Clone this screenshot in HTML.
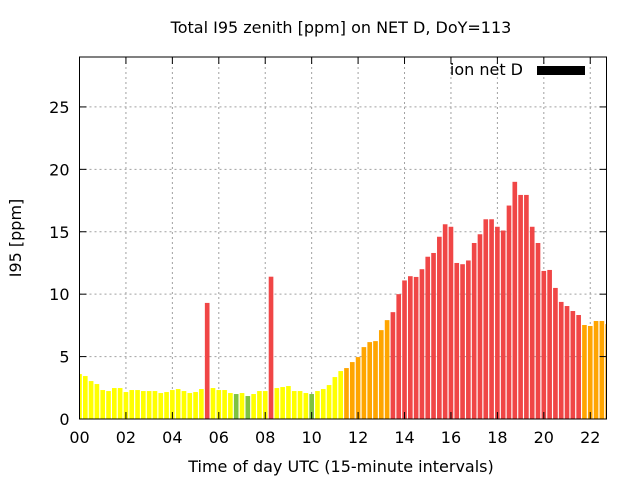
<!DOCTYPE html>
<html><head><meta charset="utf-8"><style>
body{margin:0;background:#fff}
svg{font-family:"DejaVu Sans","Liberation Sans",sans-serif}
</style></head><body>
<svg id="chart" width="640" height="480">
<text x="341" y="33" text-anchor="middle" font-size="16">Total I95 zenith [ppm] on NET D, DoY=113</text>
<text x="341" y="472" text-anchor="middle" font-size="16">Time of day UTC (15-minute intervals)</text>
<text transform="translate(21,238) rotate(-90)" text-anchor="middle" font-size="16">I95 [ppm]</text>
<g id="grid"></g>
<g id="bars"></g>
<g id="axes"></g>
<text x="523" y="75" text-anchor="end" font-size="16">ion net D</text>
<rect x="537" y="66" width="48" height="9" fill="#000"/>
</svg>
<script>
const values=[3.6,3.44,3.04,2.8,2.32,2.24,2.48,2.48,2.16,2.32,2.32,2.24,2.24,2.24,2.08,2.16,2.32,2.4,2.24,2.08,2.16,2.4,9.3,2.48,2.32,2.32,2.08,2.0,2.08,1.84,
2.0,2.24,2.24,11.4,2.48,2.56,2.64,2.24,2.24,2.08,2.0,2.24,2.4,2.72,3.36,3.84,4.08,4.56,4.96,5.76,6.16,6.24,7.12,7.92,8.56,10.0,11.1,11.44,11.38,12.0,
13.0,13.3,14.6,15.6,15.4,12.5,12.4,12.7,14.1,14.8,16.0,16.0,15.4,15.1,17.1,19.0,17.95,17.95,15.4,14.1,11.86,11.94,10.5,9.38,9.05,8.65,8.33,7.53,7.45,7.85,7.85,7.6];
const greenIdx=[27,29,40];
const orangeIdx=[46,47,48,49,50,51,52,53,87,88,89,90,91];
const redIdx=[22,33];
const yTicks=[0,5,10,15,20,25];
const xTicks=["00","02","04","06","08","10","12","14","16","18","20","22"];
const L=79.5,R=606.5,T=57,B=419,XMAX=22.7,YMAX=29;
const sx=h=>L+(h/XMAX)*(R-L), sy=v=>B-(v/YMAX)*(B-T);
const NS="http://www.w3.org/2000/svg";
function colorFor(i){
 if(greenIdx.includes(i))return "#7fc241";
 if(orangeIdx.includes(i))return "#ffa500";
 if(redIdx.includes(i)||(i>=54&&i<=86))return "#f04646";
 return "#ffff00";}
function mk(tag,attrs,parent){const e=document.createElementNS(NS,tag);for(const k in attrs)e.setAttribute(k,attrs[k]);parent.appendChild(e);return e;}
const grid=document.getElementById('grid'),bars=document.getElementById('bars'),axes=document.getElementById('axes');
yTicks.forEach(v=>{const y=sy(v);
 if(v>0){const g=mk('line',{x1:L,x2:R,y1:y,y2:y,stroke:"#a0a0a0","stroke-dasharray":"2,3"},grid);
 
 }
 mk('line',{x1:L,x2:L+7,y1:y,y2:y,stroke:"#000"},axes);mk('line',{x1:R-7,x2:R,y1:y,y2:y,stroke:"#000"},axes);
 const t=mk('text',{x:L-10,y:y+6,"text-anchor":"end","font-size":"16"},axes);t.textContent=v;
 
 });
xTicks.forEach((lab,i)=>{const x=sx(i*2);
 if(i>0){const g=mk('line',{x1:x,x2:x,y1:T,y2:B,stroke:"#a0a0a0","stroke-dasharray":"2,3"},grid);
 
 }
 mk('line',{x1:x,x2:x,y1:B,y2:B-7,stroke:"#000"},axes);mk('line',{x1:x,x2:x,y1:T,y2:T+7,stroke:"#000"},axes);
 const t=mk('text',{x:x,y:B+24,"text-anchor":"middle","font-size":"16"},axes);t.textContent=lab;
 
 });
const cp=mk('clipPath',{id:"pc"},bars);mk('rect',{x:L,y:T,width:R-L,height:B-T},cp);
bars.setAttribute('clip-path','url(#pc)');
const bw=0.2*(R-L)/XMAX;
values.forEach((v,i)=>{const x=sx(i*0.25);
 const b=mk('rect',{x:x-bw/2,y:sy(v),width:bw,height:B-sy(v),fill:colorFor(i)},bars);
 
 });
const f=mk('rect',{x:L,y:T,width:R-L,height:B-T,fill:"none",stroke:"#000","stroke-width":"1"},axes);


</script>
</body></html>
